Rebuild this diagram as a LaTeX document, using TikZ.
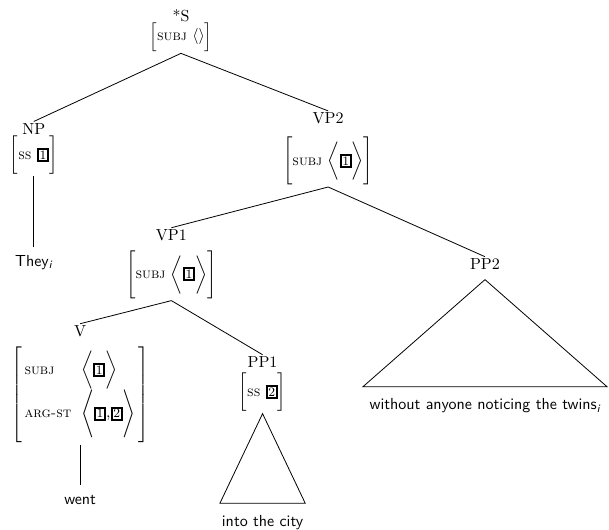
\documentclass[tikz,border=0pt]{standalone}
\usepackage{amsmath}
\usetikzlibrary{positioning}
\newcommand{\avmtag}[1]{{\setlength{\fboxrule}{1.2pt}\setlength{\fboxsep}{0.5pt}\fbox{\footnotesize #1}}}
\newcommand{\feat}[1]{\mbox{\small\textsc{#1}}}
\begin{document}
\begin{tikzpicture}[
  level 1/.style={level distance=74pt, sibling distance=184pt},
  level 2/.style={level distance=72pt, sibling distance=196pt},
  level 3/.style={level distance=75pt, sibling distance=114pt},
  level 4/.style={level distance=74pt},
  edge from parent path={(\tikzparentnode.south) -- (\tikzchildnode.north)},
  every node/.style={inner sep=1pt, align=center},
  leaf/.style={font=\sffamily, text height=6pt, text depth=3pt, inner ysep=6pt},
  roof/.style={font=\sffamily, text height=7pt, text depth=2pt, inner xsep=1pt, inner ysep=7pt},
  line width=0.5pt
]
\useasboundingbox (-113.1pt,19.1pt) rectangle (267.5pt,-311.6pt);
\node (s) {*S\\[0pt] $\Big[\feat{subj}\ \langle\rangle\Big]$}
  child { node (np) {NP\\[0pt] $\bigg[\feat{ss}\ \avmtag{1}\bigg]$}
    child { node[leaf] (they) {They$_{\textit{i}}$} }
  }
  child { node (vp2) {VP2\\[7pt] $\Bigg[\feat{subj}\ \bigg\langle\avmtag{1}\bigg\rangle\Bigg]$}
    child { node (vp1) {VP1\\[5pt] $\Bigg[\feat{subj}\ \bigg\langle\avmtag{1}\bigg\rangle\Bigg]$}
      child { node (v) {V\\[5pt] $\delimitershortfall=-1pt\left[\,\begin{array}{@{}l@{\hspace{6pt}}l@{}}
          \feat{subj} & \Big\langle\avmtag{1}\Big\rangle\\[6pt]
          \feat{arg-st} & \bigg\langle\avmtag{1}{,}\avmtag{2}\bigg\rangle
        \end{array}\,\right]$}
        child { node[leaf] (went) {went} }
      }
      child { node (pp1) {PP1\\[2.5pt] $\bigg[\feat{ss}\ \avmtag{2}\bigg]$} }
    }
    child { node (pp2) {PP2} }
  };
% roofs
\node[roof, below=56pt of pp1] (pp1txt) {into the city};
\node[roof, inner xsep=4pt, below=72pt of pp2] (pp2txt) {without anyone noticing the twins$_{\textit{i}}$};
\draw (pp1.south) -- (pp1txt.north west) -- (pp1txt.north east) -- cycle;
\draw ([yshift=-5pt]pp2.south) -- (pp2txt.north west) -- (pp2txt.north east) -- cycle;
\end{tikzpicture}
\end{document}
